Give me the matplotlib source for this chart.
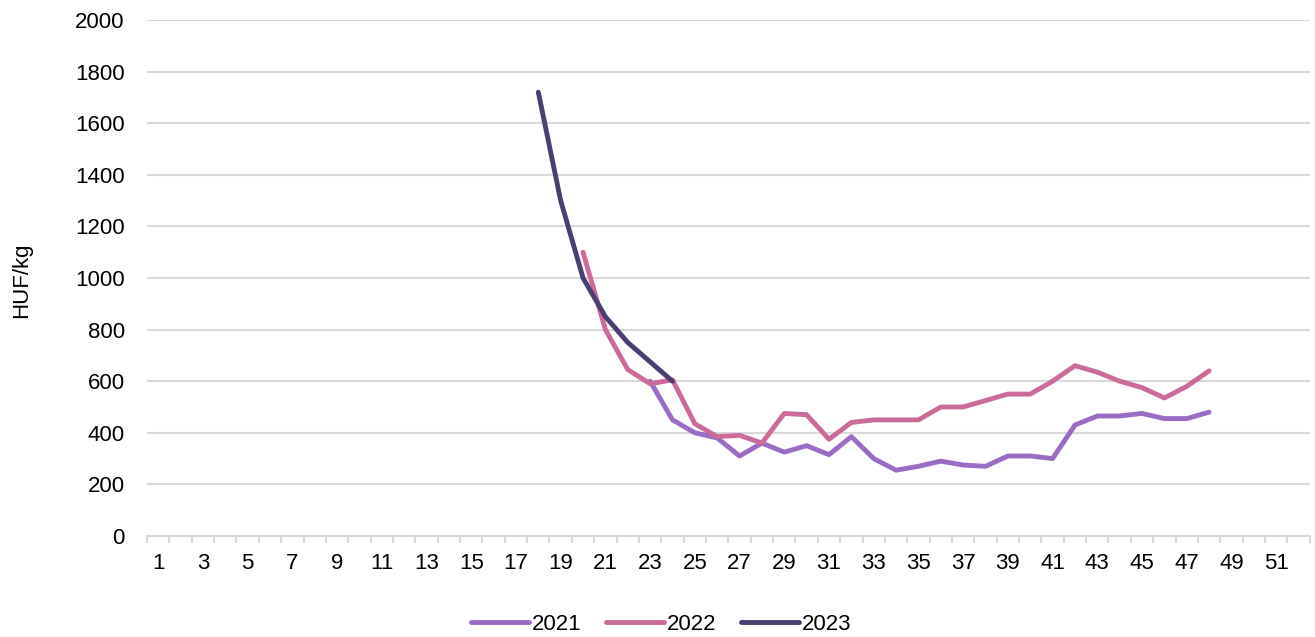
import numpy as np
import matplotlib.pyplot as plt

plt.rcParams['font.family'] = ['Liberation Sans', 'DejaVu Sans']

# weekly prices, HUF/kg
weeks_2021 = list(range(23, 49))
price_2021 = [600, 450, 400, 380, 310, 360, 325, 350, 315, 385, 300, 255, 270,
              290, 275, 270, 310, 310, 300, 430, 465, 465, 475, 455, 455, 480]

weeks_2022 = list(range(20, 49))
price_2022 = [1100, 800, 645, 590, 605, 435, 385, 390, 360, 475, 470, 375, 440,
              450, 450, 450, 500, 500, 525, 550, 550, 600, 660, 635, 600, 575,
              535, 580, 640]

weeks_2023 = list(range(18, 25))
price_2023 = [1720, 1300, 1000, 850, 750, 675, 600]

series = [("2021", weeks_2021, price_2021, "#9B6CC6"),
          ("2022", weeks_2022, price_2022, "#CC6A9A"),
          ("2023", weeks_2023, price_2023, "#4A3F73")]

fig = plt.figure(figsize=(13.15, 6.37), dpi=100)
ax = fig.add_axes([0.1118, 0.1586, 0.8842, 0.81])

for name, w, p, c in series:
    ax.plot(w, p, color=c, lw=3.5, label=name, solid_capstyle='round',
            solid_joinstyle='round')

ax.set_xlim(0.5, 52.5)
ax.set_ylim(0, 2000)
ax.set_yticks(np.arange(0, 2001, 200))
ax.set_xticks(np.arange(1, 52, 2))
ax.set_xticks(np.arange(0.5, 53, 1), minor=True)
ax.tick_params(axis='x', which='major', length=0, pad=12, labelsize=16)
ax.tick_params(axis='x', which='minor', length=5, color='#D9D9D9', width=1.5)
ax.tick_params(axis='y', length=0, pad=16, labelsize=16)
ax.grid(axis='y', color='#D9D9D9', lw=1.5)
ax.set_axisbelow(True)
for s in ['top', 'right', 'left']:
    ax.spines[s].set_visible(False)
ax.spines['bottom'].set_color('#D9D9D9')
ax.spines['bottom'].set_linewidth(1.5)

fig.text(22 / 1315, 1 - 280 / 637, "HUF/kg", rotation=90, fontsize=16,
         ha='center', va='center')

fig.legend(loc='lower center', bbox_to_anchor=(0.503, -0.028), ncol=3,
           frameon=False, fontsize=16, handlelength=2.6, columnspacing=1.1,
           handletextpad=0.15)

fig.savefig("out.png", dpi=100)
